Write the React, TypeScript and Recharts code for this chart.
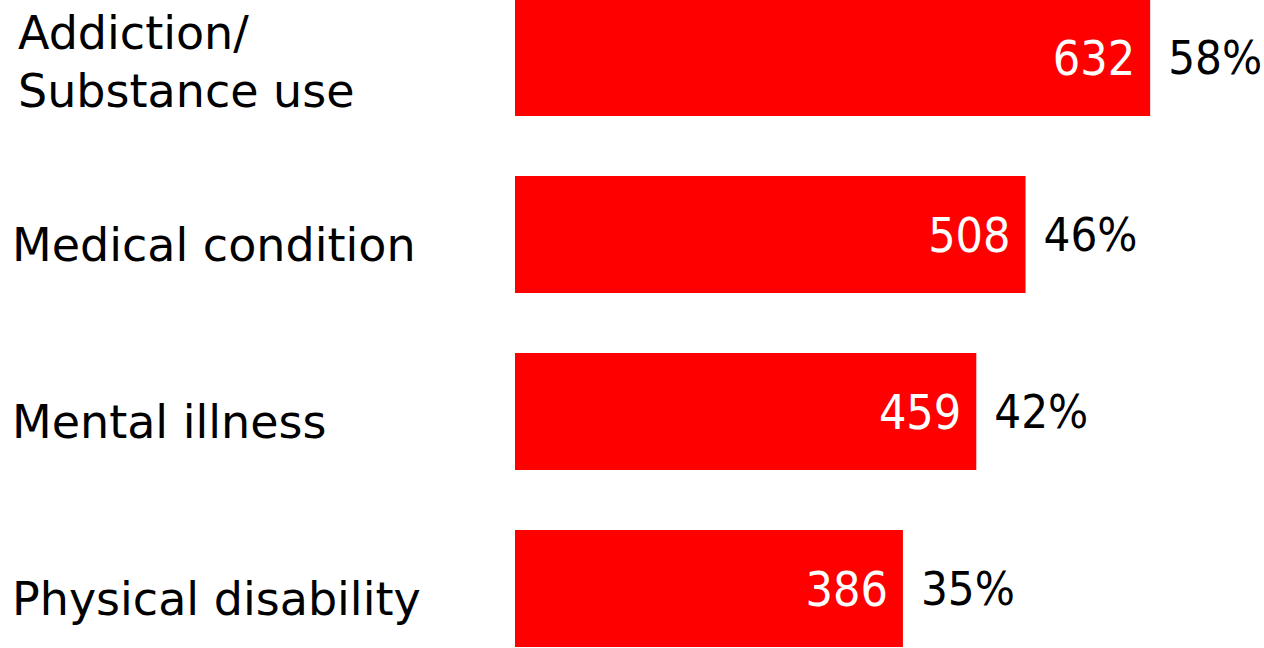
import { BarChart, Bar, XAxis, YAxis, LabelList } from 'recharts'

const categories = ['Addiction/\nSubstance use', 'Medical condition', 'Mental illness', 'Physical disability']
const counts = [632, 508, 459, 386]
const percents = ['58%', '46%', '42%', '35%']

const data = categories.map((name, i) => ({ name, count: counts[i], pct: percents[i] }))

const LABEL_FONT = '"DejaVu Sans", sans-serif'
const NUM_FONT = '"DejaVu Sans Condensed", "DejaVu Sans", sans-serif'

const CategoryTick = (props: any) => {
  const { y, payload } = props
  const lines = String(payload.value).split('\n')
  const lineH = 58
  const multi = lines.length > 1
  const x = multi ? 18 : 12
  const start = y - ((lines.length - 1) * lineH) / 2 + (multi ? 20 : 26)
  return (
    <text x={x} y={start} textAnchor="start" fill="#000" fontSize={46} fontFamily={LABEL_FONT}>
      {lines.map((l, i) => (
        <tspan key={i} x={x} y={start + i * lineH}>
          {l}
        </tspan>
      ))}
    </text>
  )
}

export default function App() {
  return (
    <div style={{ position: 'absolute', top: -31, left: 0, width: 1264, height: 708 }}>
      <BarChart
        width={1264}
        height={708}
        data={data}
        layout="vertical"
        margin={{ top: 0, right: 45.5, bottom: 0, left: 0 }}
        barSize={117}
      >
        <XAxis type="number" domain={[0, 700]} hide />
        <YAxis
          type="category"
          dataKey="name"
          width={515}
          axisLine={false}
          tickLine={false}
          tick={<CategoryTick />}
        />
        <Bar dataKey="count" fill="#ff0000" isAnimationActive={false}>
          <LabelList
            dataKey="count"
            position="insideRight"
            offset={15}
            fill="#fff"
            fontSize={48}
            fontFamily={NUM_FONT}
          />
          <LabelList
            dataKey="pct"
            position="right"
            offset={18}
            fill="#000"
            fontSize={47}
            fontFamily={NUM_FONT}
          />
        </Bar>
      </BarChart>
    </div>
  )
}
